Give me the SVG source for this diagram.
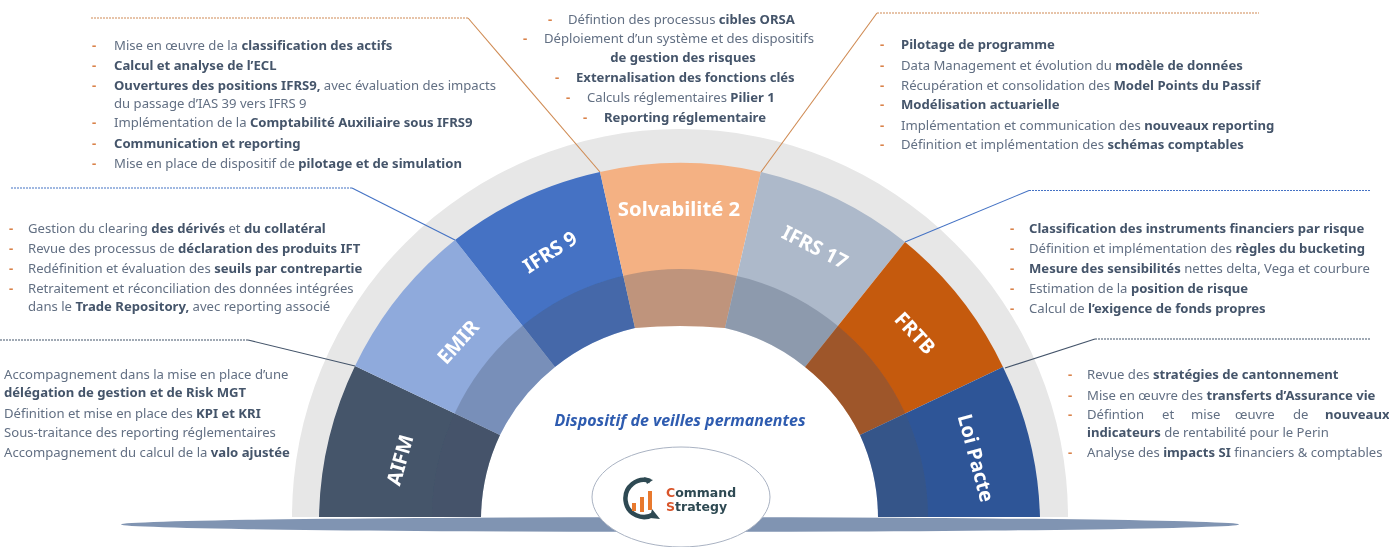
<svg xmlns="http://www.w3.org/2000/svg" width="1389" height="547" viewBox="0 0 1389 547">
<style>
text{font-family:"Noto Sans","Open Sans","Liberation Sans",sans-serif}
.t{font-size:13.12px;fill:#626f83}
.t tspan.b,.b{font-weight:700;fill:#44546a}
.d{font-size:13.12px;fill:#d9824a;font-weight:700}
.m{text-anchor:middle}
.l{font-size:20px;font-weight:700;fill:#fff;text-anchor:middle}
.c{fill:none;stroke-width:1.1}
.h{stroke-dasharray:2 1}
</style>
<defs><filter id="soft" x="0" y="0" width="100%" height="100%"><feGaussianBlur stdDeviation=".35"/></filter></defs>
<rect width="1389" height="547" fill="#fff"/>
<g id="diagram" filter="url(#soft)">
<g id="arc">
<path id="ring" d="M292,517A388,388 0 0 1 1068,517L1040,517A361,361 0 0 0 319,517Z" fill="#e7e7e7"/>
</g>
<g id="node-aifm"><path d="M319,517A361,361 0 0 1 355,366L500,435A200,200 0 0 0 481,517Z" fill="#44546a"/><text class="l" transform="translate(400,460) rotate(-74)" y="7">AIFM</text></g>
<g id="node-emir"><path d="M355,366A361,361 0 0 1 455,240L555,367A200,200 0 0 0 500,435Z" fill="#8faadc"/><text class="l" transform="translate(458,342) rotate(-48)" y="7">EMIR</text></g>
<g id="node-ifrs9"><path d="M455,240A361,361 0 0 1 600,172L635,328A200,200 0 0 0 555,367Z" fill="#4472c4"/><text class="l" transform="translate(550,252) rotate(-33)" y="7">IFRS 9</text></g>
<g id="node-s2"><path d="M600,172A361,361 0 0 1 761,172L725,328A500,500 0 0 0 635,328Z" fill="#f4b183"/><text class="l" x="679" y="216" style="font-size:20.3px">Solvabilité 2</text></g>
<g id="node-ifrs17"><path d="M761,172A361,361 0 0 1 905,242L805,367A200,200 0 0 0 725,328Z" fill="#adb9ca"/><text class="l" transform="translate(815,247) rotate(27)" y="7">IFRS 17</text></g>
<g id="node-frtb"><path d="M905,242A361,361 0 0 1 1003,367L860,435A200,200 0 0 0 805,367Z" fill="#c55a11"/><text class="l" transform="translate(915,333) rotate(47)" y="7">FRTB</text></g>
<g id="node-loi"><path d="M1003,367A361,361 0 0 1 1040,517L878,517A200,200 0 0 0 860,435Z" fill="#2f5597"/><text class="l" transform="translate(976,458) rotate(75)" y="7">Loi Pacte</text></g>
<path id="band" d="M432,517A248,248 0 0 1 928,517L878,517A200,200 0 0 0 860,435A200,200 0 0 0 805,367A200,200 0 0 0 725,328A500,500 0 0 0 635,328A200,200 0 0 0 555,367A200,200 0 0 0 500,435A200,200 0 0 0 481,517Z" fill="#44546a" fill-opacity=".3"/>
<g id="base"><ellipse cx="680" cy="524.5" rx="559" ry="7.3" fill="#8094b2"/></g>
<g id="connectors">
<path class="c" d="M600,172L468,18" stroke="#cf8a52"/><path class="c h" d="M468,18H90" stroke="#cf8a52"/>
<path class="c" d="M761,172L877,13" stroke="#cf8a52"/><path class="c h" d="M877,13H1259" stroke="#cf8a52"/>
<path class="c" d="M455,240L352,188" stroke="#4472c4"/><path class="c h" d="M352,188H10" stroke="#4472c4"/>
<path class="c" d="M905,242L1029,190.5" stroke="#4472c4"/><path class="c h" d="M1029,190.5H1370" stroke="#4472c4"/>
<path class="c" d="M355,366L248,340" stroke="#44546a"/><path class="c h" d="M248,340H0" stroke="#44546a"/>
<path class="c" d="M1005,368L1095,339" stroke="#44546a"/><path class="c h" d="M1095,339H1370" stroke="#44546a"/>
</g>
<g id="node-veille"><text x="680" y="426" class="m" style="font-size:16px;font-weight:700;font-style:italic;fill:#2f5cb0">Dispositif de veilles permanentes</text></g>
<g id="node-logo">
<ellipse cx="681" cy="497" rx="89" ry="50" fill="#fff" stroke="#a9b2c2" stroke-width="1"/>
<path d="M650,481A18.5,18.500 0 1 0 654,514" fill="none" stroke="#2e4a52" stroke-width="4.5"/>
<path d="M653,480L644,477L647,484ZM652,509L660,519L650,518Z" fill="#2e4a52"/>
<path d="M632,503h4v8h-4zM640,497h4v15h-4zM648,491h4v19h-4z" fill="#e8792f"/>
<text x="666" y="497" style="font-family:'DejaVu Sans',sans-serif;font-size:12.5px;font-weight:700;fill:#2e4a52"><tspan fill="#d9552b">C</tspan>ommand</text>
<text x="666" y="511" style="font-family:'DejaVu Sans',sans-serif;font-size:12.5px;font-weight:700;fill:#2e4a52"><tspan fill="#d9552b">S</tspan>trategy</text>
</g>
<g id="text-ifrs9">
<text class="d" x="92" y="50">-</text><text class="t" x="114" y="50">Mise en œuvre de la <tspan class="b">classification des actifs</tspan></text>
<text class="d" x="92" y="70">-</text><text class="t" x="114" y="70"><tspan class="b">Calcul et analyse de l’ECL</tspan></text>
<text class="d" x="92" y="90">-</text><text class="t" x="114" y="90"><tspan class="b">Ouvertures des positions IFRS9,</tspan> avec évaluation des impacts</text>
<text class="t" x="114" y="108">du passage d’IAS 39 vers IFRS 9</text>
<text class="d" x="92" y="127">-</text><text class="t" x="114" y="127">Implémentation de la <tspan class="b">Comptabilité Auxiliaire sous IFRS9</tspan></text>
<text class="d" x="92" y="148">-</text><text class="t" x="114" y="148"><tspan class="b">Communication et reporting</tspan></text>
<text class="d" x="92" y="168">-</text><text class="t" x="114" y="168">Mise en place de dispositif de <tspan class="b">pilotage et de simulation</tspan></text>
</g>
<g id="text-emir">
<text class="d" x="9" y="233">-</text><text class="t" x="28" y="233">Gestion du clearing <tspan class="b">des dérivés</tspan> et <tspan class="b">du collatéral</tspan></text>
<text class="d" x="9" y="253">-</text><text class="t" x="28" y="253">Revue des processus de <tspan class="b">déclaration des produits IFT</tspan></text>
<text class="d" x="9" y="273">-</text><text class="t" x="28" y="273">Redéfinition et évaluation des <tspan class="b">seuils par contrepartie</tspan></text>
<text class="d" x="9" y="293">-</text><text class="t" x="28" y="293">Retraitement et réconciliation des données intégrées</text>
<text class="t" x="28" y="311">dans le <tspan class="b">Trade Repository,</tspan> avec reporting associé</text>
</g>
<g id="text-aifm">
<text class="t" x="4" y="379">Accompagnement dans la mise en place d’une</text>
<text class="t" x="4" y="397"><tspan class="b">délégation de gestion et de Risk MGT</tspan></text>
<text class="t" x="4" y="418">Définition et mise en place des <tspan class="b">KPI et KRI</tspan></text>
<text class="t" x="4" y="437">Sous-traitance des reporting réglementaires</text>
<text class="t" x="4" y="457">Accompagnement du calcul de la <tspan class="b">valo ajustée</tspan></text>
</g>
<g id="text-s2">
<text class="d" x="548" y="24">-</text><text class="t" x="568" y="24">Défintion des processus <tspan class="b">cibles ORSA</tspan></text>
<text class="d" x="523" y="43">-</text><text class="t" x="544" y="43">Déploiement d’un système et des dispositifs</text>
<text class="t m" x="683" y="62"><tspan class="b">de gestion des risques</tspan></text>
<text class="d" x="555" y="82">-</text><text class="t" x="576" y="82"><tspan class="b">Externalisation des fonctions clés</tspan></text>
<text class="d" x="566" y="102">-</text><text class="t" x="587" y="102">Calculs réglementaires <tspan class="b">Pilier 1</tspan></text>
<text class="d" x="583" y="122">-</text><text class="t" x="604" y="122"><tspan class="b">Reporting réglementaire</tspan></text>
</g>
<g id="text-ifrs17">
<text class="d" x="880" y="49">-</text><text class="t" x="901" y="49"><tspan class="b">Pilotage de programme</tspan></text>
<text class="d" x="880" y="70">-</text><text class="t" x="901" y="70">Data Management et évolution du <tspan class="b">modèle de données</tspan></text>
<text class="d" x="880" y="90">-</text><text class="t" x="901" y="90">Récupération et consolidation des <tspan class="b">Model Points du Passif</tspan></text>
<text class="d" x="880" y="109">-</text><text class="t" x="901" y="109"><tspan class="b">Modélisation actuarielle</tspan></text>
<text class="d" x="880" y="130">-</text><text class="t" x="901" y="130">Implémentation et communication des <tspan class="b">nouveaux reporting</tspan></text>
<text class="d" x="880" y="149">-</text><text class="t" x="901" y="149">Définition et implémentation des <tspan class="b">schémas comptables</tspan></text>
</g>
<g id="text-frtb">
<text class="d" x="1010" y="233">-</text><text class="t" x="1029" y="233"><tspan class="b">Classification des instruments financiers par risque</tspan></text>
<text class="d" x="1010" y="253">-</text><text class="t" x="1029" y="253">Définition et implémentation des <tspan class="b">règles du bucketing</tspan></text>
<text class="d" x="1010" y="273">-</text><text class="t" x="1029" y="273"><tspan class="b">Mesure des sensibilités</tspan> nettes delta, Vega et courbure</text>
<text class="d" x="1010" y="293">-</text><text class="t" x="1029" y="293">Estimation de la <tspan class="b">position de risque</tspan></text>
<text class="d" x="1010" y="313">-</text><text class="t" x="1029" y="313">Calcul de <tspan class="b">l’exigence de fonds propres</tspan></text>
</g>
<g id="text-loi">
<text class="d" x="1068" y="379">-</text><text class="t" x="1087" y="379">Revue des <tspan class="b">stratégies de cantonnement</tspan></text>
<text class="d" x="1068" y="400">-</text><text class="t" x="1087" y="400">Mise en œuvre des <tspan class="b">transferts d’Assurance vie</tspan></text>
<text class="d" x="1068" y="419">-</text><text class="t" x="1087" y="419">Défintion</text><text class="t" x="1162" y="419">et</text><text class="t" x="1191" y="419">mise</text><text class="t" x="1235" y="419">œuvre</text><text class="t" x="1293" y="419">de</text><text class="t" x="1325" y="419"><tspan class="b">nouveaux</tspan></text>
<text class="t" x="1087" y="437"><tspan class="b">indicateurs</tspan> de rentabilité pour le Perin</text>
<text class="d" x="1068" y="457">-</text><text class="t" x="1087" y="457">Analyse des <tspan class="b">impacts SI</tspan> financiers &amp; comptables</text>
</g>
</g>
</svg>
